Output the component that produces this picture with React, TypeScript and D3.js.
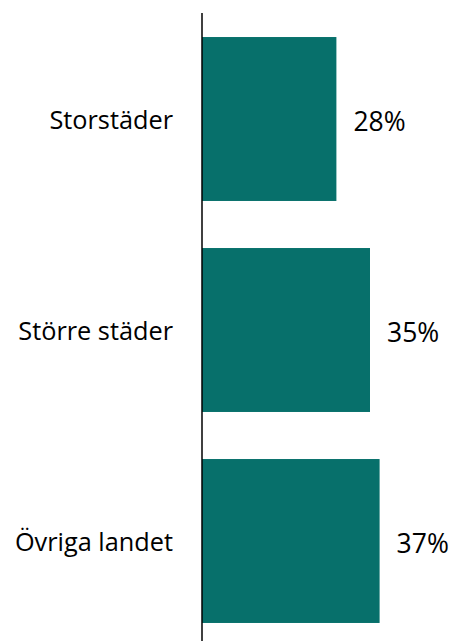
import React, { useEffect, useRef } from "react";
import * as d3 from "d3";

const categories = ["Storstäder", "Större städer", "Övriga landet"];
const values = [28, 35, 37];

const App = () => {
  const ref = useRef<SVGSVGElement>(null);

  useEffect(() => {
    const svg = d3.select(ref.current);
    svg.selectAll("*").remove();

    const width = 456;
    const height = 641;
    const axisX = 202;

    const x = d3.scaleLinear().domain([0, 100]).range([axisX, axisX + 480]);
    const y = d3
      .scaleBand()
      .domain(categories)
      .range([13.5, 646.5])
      .paddingInner(0.223)
      .paddingOuter(0.1115);

    const rows = categories.map((c, i) => ({ cat: c, value: values[i] }));

    svg
      .selectAll("rect.bar")
      .data(rows)
      .enter()
      .append("rect")
      .attr("class", "bar")
      .attr("x", x(0))
      .attr("y", (d) => y(d.cat)!)
      .attr("width", (d) => x(d.value) - x(0))
      .attr("height", y.bandwidth())
      .attr("fill", "#07706b");

    // axis line
    svg
      .append("line")
      .attr("x1", axisX)
      .attr("x2", axisX)
      .attr("y1", 13)
      .attr("y2", height)
      .attr("stroke", "#000")
      .attr("stroke-width", 1.5);

    const font = "Open Sans, sans-serif";

    svg
      .selectAll("text.cat")
      .data(rows)
      .enter()
      .append("text")
      .attr("class", "cat")
      .attr("x", axisX - 29)
      .attr("y", (d) => y(d.cat)! + y.bandwidth() / 2 + 1)
      .attr("dy", "0.35em")
      .attr("text-anchor", "end")
      .attr("font-family", font)
      .attr("font-size", 25.3)
      .attr("fill", "#000")
      .text((d) => d.cat);

    svg
      .selectAll("text.val")
      .data(rows)
      .enter()
      .append("text")
      .attr("class", "val")
      .attr("x", (d) => x(d.value) + 17)
      .attr("y", (d) => y(d.cat)! + y.bandwidth() / 2 + 2.5)
      .attr("dy", "0.35em")
      .attr("font-family", font)
      .attr("font-size", 26.5)
      .attr("fill", "#000")
      .text((d) => d.value + "%");

    svg.attr("width", width).attr("height", height);
  });

  return (
    <svg
      ref={ref}
      width={456}
      height={641}
      style={{ position: "absolute", left: 0, top: 0, background: "#fff" }}
    />
  );
};

export default App;
